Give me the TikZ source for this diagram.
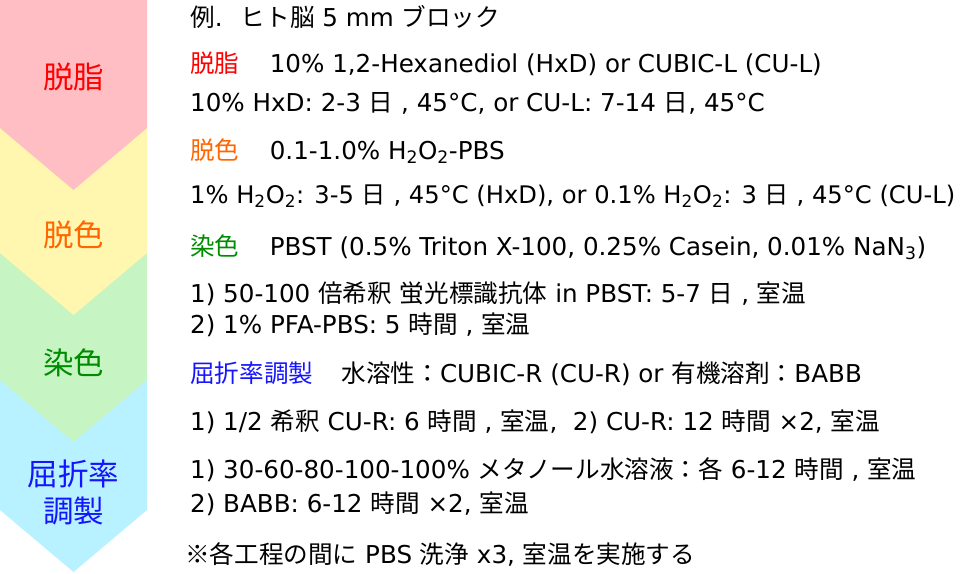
\documentclass[tikz,border=0pt]{standalone}
\usepackage{fontspec}
\setmainfont{DejaVu Sans}
\newfontfamily\jpfont{Noto Sans CJK JP}
\newcommand{\jp}[1]{{\jpfont #1}}
\usetikzlibrary{positioning}

\definecolor{stagepink}{RGB}{255,190,196}
\definecolor{stageyellow}{RGB}{255,247,176}
\definecolor{stagegreen}{RGB}{198,244,194}
\definecolor{stageblue}{RGB}{184,241,255}
\definecolor{labred}{RGB}{255,0,0}
\definecolor{laborange}{RGB}{255,102,0}
\definecolor{labgreen}{RGB}{0,140,0}
\definecolor{labblue}{RGB}{20,20,255}

\begin{document}
\begin{tikzpicture}[x=1pt,y=-1pt,
    txt/.style={anchor=base west,inner sep=0pt,font=\fontsize{24.6}{29}\selectfont},
    stage/.style={inner sep=0pt,align=center,font=\jpfont\fontsize{30.5}{37}\selectfont}]
  \useasboundingbox (0,0) rectangle (960,573);
  % stages on the left, lowest first
  \foreach \top/\side/\col in {380/510/stageblue,253/380/stagegreen,128/253/stageyellow,0/128/stagepink}
    \fill[\col] (0,\top) -- (147,\top) -- (147,\side) -- (73.5,\side+62) -- (0,\side) -- cycle;
  \node[stage,text=labred] (st_1) at (73.5,77) {脱脂};
  \node[stage,text=laborange] (st_2) at (73.5,235) {脱色};
  \node[stage,text=labgreen] (st_3) at (73.5,363) {染色};
  \node[stage,text=labblue] (st_4) at (73.5,492) {屈折率\\調製};

  % protocol text
  \node[txt] (ex) at (190,26) {\jp{例}. \ \jp{ヒト脳} 5 mm \jp{ブロック}};
  \node[txt,text=labred] (p_1) at (190,72) {\jp{脱脂}};
  \node[txt,base right=30pt of p_1] (p_1a) {10\% 1,2-Hexanediol (HxD) or CUBIC-L (CU-L)};
  \node[txt] (p_1b) at (190,111) {10\% HxD: 2-3 \jp{日} , 45°C, or CU-L: 7-14 \jp{日}, 45°C};
  \node[txt,text=laborange] (p_2) at (190,159) {\jp{脱色}};
  \node[txt,base right=30pt of p_2] (p_2a) {0.1-1.0\% H\textsubscript{2}O\textsubscript{2}-PBS};
  \node[txt,font=\fontsize{24.2}{29}\selectfont] (p_2b) at (190,203) {1\% H\textsubscript{2}O\textsubscript{2}: 3-5 \jp{日} , 45°C (HxD), or 0.1\% H\textsubscript{2}O\textsubscript{2}: 3 \jp{日} , 45°C (CU-L)};
  \node[txt,text=labgreen] (p_3) at (190,255) {\jp{染色}};
  \node[txt,base right=30pt of p_3] (p_3a) {PBST (0.5\% Triton X-100, 0.25\% Casein, 0.01\% NaN\textsubscript{3})};
  \node[txt] (p_3b) at (190,302) {1) 50-100 \jp{倍希釈} \jp{蛍光標識抗体} in PBST: 5-7 \jp{日} , \jp{室温}};
  \node[txt] (p_3c) at (190,333) {2) 1\% PFA-PBS: 5 \jp{時間} , \jp{室温}};
  \node[txt,text=labblue] (p_4) at (190,382) {\jp{屈折率調製}};
  \node[txt,base right=28pt of p_4] (p_4a) {\jp{水溶性：}CUBIC-R (CU-R) or \jp{有機溶剤：}BABB};
  \node[txt] (p_4b) at (190,430) {1) 1/2 \jp{希釈} CU-R: 6 \jp{時間} , \jp{室温}, \ 2) CU-R: 12 \jp{時間} ×2, \jp{室温}};
  \node[txt] (p_4c) at (190,478) {1) 30-60-80-100-100\% \jp{メタノール水溶液：各} 6-12 \jp{時間} , \jp{室温}};
  \node[txt] (p_4d) at (190,512) {2) BABB: 6-12 \jp{時間} ×2, \jp{室温}};
  \node[txt] (note) at (185,563) {\jp{※各工程の間に} PBS \jp{洗浄} x3, \jp{室温を実施する}};
\end{tikzpicture}
\end{document}
